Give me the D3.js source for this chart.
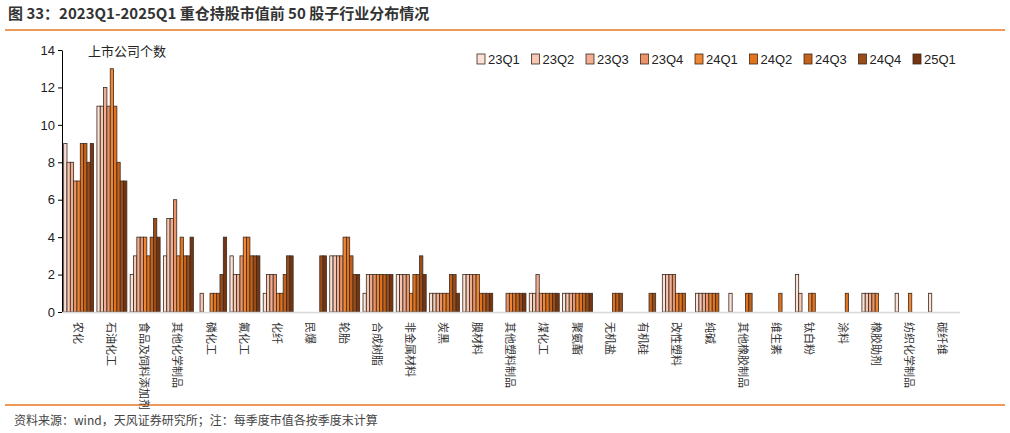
<!DOCTYPE html><html><head><meta charset="utf-8"><script src="https://cdn.jsdelivr.net/npm/d3@7"></script>
<style>body{margin:0;background:#fff;font-family:"Noto Sans CJK SC","Liberation Sans",sans-serif}</style></head><body><svg id="c" width="1010" height="433"></svg>
<script>
const categories=["农化","石油化工","食品及饲料添加剂","其他化学制品","磷化工","氟化工","化纤","民爆","轮胎","合成树脂","非金属材料","炭黑","膜材料","其他塑料制品","煤化工","聚氨酯","无机盐","有机硅","改性塑料","纯碱","其他橡胶制品","维生素","钛白粉","涂料","橡胶助剂","纺织化学制品","碳纤维"];
const seriesNames=["23Q1","23Q2","23Q3","23Q4","24Q1","24Q2","24Q3","24Q4","25Q1"];
const values=[
[9,8,8,7,7,9,9,8,9],[11,11,12,11,13,11,8,7,7],[2,3,4,4,4,3,4,5,4],[3,5,5,6,3,4,3,3,4],
[0,1,0,0,1,1,1,2,4],[3,2,2,3,4,4,3,3,3],[1,2,2,2,1,1,2,3,3],[0,0,0,0,0,0,0,3,3],
[3,3,3,3,4,4,3,2,2],[1,2,2,2,2,2,2,2,2],[2,2,2,2,1,2,2,3,2],[1,1,1,1,1,1,2,2,1],
[2,2,2,2,2,1,1,1,1],[0,0,0,1,1,1,1,1,1],[1,1,2,1,1,1,1,1,1],[1,1,1,1,1,1,1,1,1],
[0,0,0,0,0,1,1,1,0],[0,0,0,0,0,0,1,1,0],[2,2,2,2,1,1,1,0,0],[1,1,1,1,1,1,1,0,0],
[1,0,0,0,0,1,1,0,0],[0,0,0,0,0,1,0,0,0],[2,1,0,0,1,1,0,0,0],[0,0,0,0,0,1,0,0,0],
[1,1,1,1,1,0,0,0,0],[1,0,0,0,1,0,0,0,0],[1,0,0,0,0,0,0,0,0]];
const yTicks=[0,2,4,6,8,10,12,14];
const colors=["#fbe1d6","#f6c7b3","#f1ae91","#ec9468","#f08532","#e4731c","#c5621a","#9c4c17","#763510"];
const svg=d3.select("#c");
svg.append("text").attr("x",8).attr("y",19).attr("font-size",15).attr("font-weight","bold").attr("fill","#333").text("图 33：2023Q1-2025Q1 重仓持股市值前 50 股子行业分布情况");
svg.append("line").attr("x1",5).attr("x2",1005).attr("y1",30).attr("y2",30).attr("stroke","#e87722").attr("stroke-width",1.5);
svg.append("line").attr("x1",5).attr("x2",1005).attr("y1",405).attr("y2",405).attr("stroke","#e87722").attr("stroke-width",1.5);
svg.append("text").attr("x",14).attr("y",425).attr("font-size",12).attr("fill","#444").text("资料来源：wind，天风证券研究所；注：每季度市值各按季度末计算");
const x0=d3.scaleBand().domain(categories).range([62,960]).paddingInner(0.1).paddingOuter(0.05);
const x1=d3.scaleBand().domain(seriesNames).range([0,x0.bandwidth()]);
const y=d3.scaleLinear().domain([0,14]).range([312,50]);
const ya=svg.append("g").attr("transform","translate(62,0)").call(d3.axisLeft(y).tickValues(yTicks).tickSize(4).tickSizeOuter(0));
ya.select(".domain").attr("stroke","#000");ya.selectAll("text").attr("font-size",13).attr("fill","#222").attr("font-family","Liberation Sans");
svg.append("text").attr("x",88).attr("y",56).attr("font-size",13).attr("fill","#222").text("上市公司个数");
const g=svg.append("g");
categories.forEach((c,i)=>{values[i].forEach((v,j)=>{if(!v)return;
g.append("rect").attr("x",x0(c)+x1(seriesNames[j])).attr("width",x1.bandwidth()).attr("y",y(v)).attr("height",y(0)-y(v)).attr("fill",colors[j]).attr("stroke","#3a2a20").attr("stroke-width",0.8);});
svg.append("text").attr("transform",`translate(${x0(c)+x0.bandwidth()/2-5},322) rotate(90)`).attr("font-size",11).attr("fill","#333").text(c);});
svg.append("line").attr("x1",62).attr("x2",960).attr("y1",312.5).attr("y2",312.5).attr("stroke","#d9d9d9").attr("stroke-width",1.5);
const lg=svg.append("g");
seriesNames.forEach((s,j)=>{const lx=477+j*54.5;
lg.append("rect").attr("x",lx).attr("y",54).attr("width",8).attr("height",10).attr("fill",colors[j]).attr("stroke","#3a2a20").attr("stroke-width",0.8);
lg.append("text").attr("x",lx+11).attr("y",64).attr("font-size",13).attr("fill","#222").attr("font-family","Liberation Sans").text(s);});
</script></body></html>
